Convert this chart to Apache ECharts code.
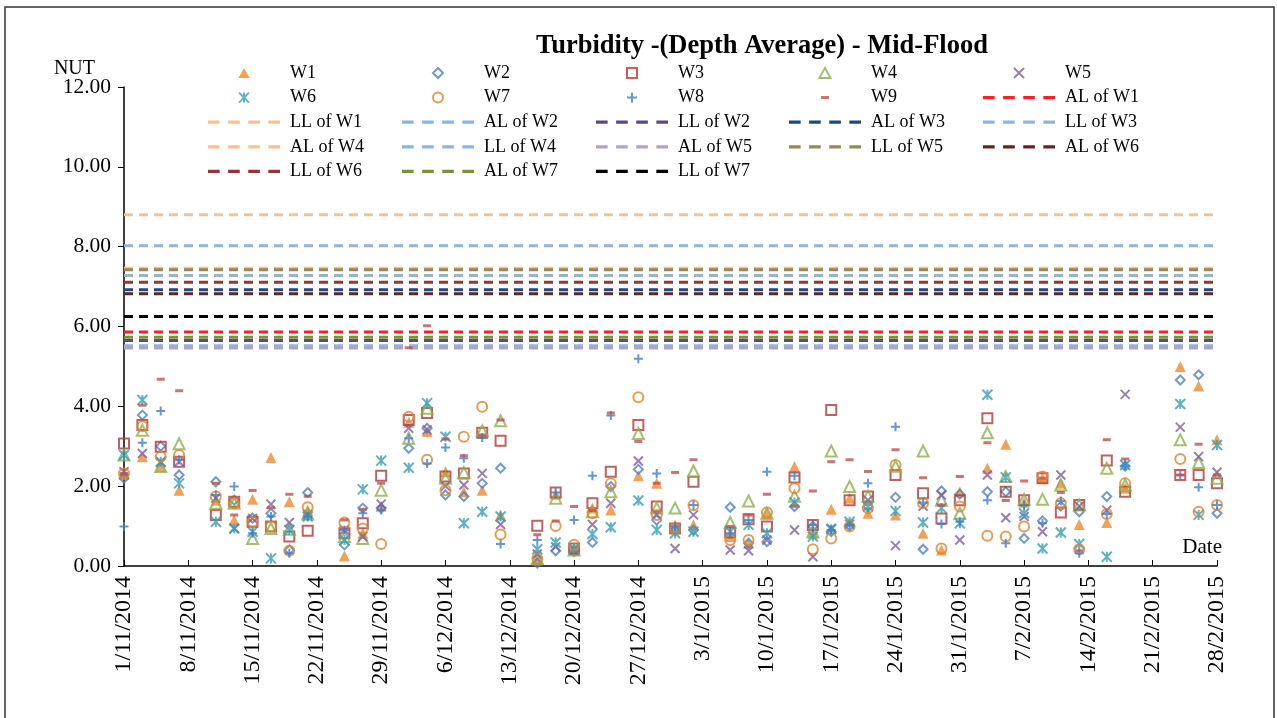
<!DOCTYPE html>
<html>
<head>
<meta charset="utf-8">
<script src="https://cdn.jsdelivr.net/npm/echarts@6/dist/echarts.min.js"></script>
<style>
  html, body { margin: 0; padding: 0; background: #fff; }
  #chart { width: 1277px; height: 718px; }
</style>
</head>
<body>
<div id="chart"></div>
<script>
// sampling dates
var dates = ['2014-11-01','2014-11-03','2014-11-05','2014-11-07','2014-11-11','2014-11-13','2014-11-15','2014-11-17','2014-11-19','2014-11-21',
  '2014-11-25','2014-11-27','2014-11-29','2014-12-02','2014-12-04','2014-12-06','2014-12-08','2014-12-10','2014-12-12','2014-12-16',
  '2014-12-18','2014-12-20','2014-12-22','2014-12-24','2014-12-27','2014-12-29','2014-12-31','2015-01-02','2015-01-06','2015-01-08',
  '2015-01-10','2015-01-13','2015-01-15','2015-01-17','2015-01-19','2015-01-21','2015-01-24','2015-01-27','2015-01-29','2015-01-31',
  '2015-02-03','2015-02-05','2015-02-07','2015-02-09','2015-02-11','2015-02-13','2015-02-16','2015-02-18','2015-02-24','2015-02-26','2015-02-28'];

var W1 = [2.30,2.74,2.49,1.90,1.65,1.15,1.67,2.72,1.61,1.40,0.25,0.82,1.50,3.60,3.37,2.36,1.86,1.90,1.28,0.15,1.80,0.40,1.45,1.40,2.26,2.07,1.03,1.03,0.74,0.57,1.30,2.49,0.82,1.42,1.70,1.32,1.28,0.82,0.40,1.86,2.45,3.05,1.60,2.20,2.07,1.04,1.09,1.95,5.00,4.51,3.16];
var W2 = [2.20,3.78,3.00,2.28,2.11,1.65,1.20,1.32,0.40,1.84,0.53,1.45,1.45,2.95,3.45,1.78,1.74,2.07,2.45,0.07,0.38,0.36,0.59,1.99,2.42,1.15,0.90,0.90,1.47,0.57,0.61,1.49,0.99,0.86,1.00,1.49,1.72,0.42,1.88,1.80,1.86,1.86,0.69,1.13,1.50,1.36,1.74,2.50,4.66,4.79,1.32];
var W3 = [3.07,3.53,2.99,2.61,1.28,1.61,1.11,0.99,0.74,0.88,0.82,1.07,2.26,3.66,3.83,2.24,2.32,3.34,3.14,1.01,1.84,0.44,1.57,2.36,3.53,1.49,0.94,2.11,0.84,1.17,0.99,2.22,1.03,3.91,1.65,1.74,2.28,1.82,1.19,1.65,3.70,1.86,1.65,2.20,1.34,1.53,2.64,1.86,2.28,2.28,2.07];
var W4 = [2.78,3.40,2.49,3.06,1.57,1.57,0.69,0.94,0.92,1.30,0.74,0.69,1.90,3.20,3.95,2.20,2.34,3.39,3.64,0.19,1.70,0.40,1.36,1.86,3.32,1.45,1.45,2.38,1.09,1.63,1.32,1.75,0.86,2.88,1.99,1.75,2.50,2.88,1.65,1.32,3.34,2.24,1.67,1.67,2.03,1.53,2.45,2.03,3.16,2.59,2.20];
var W5 = [2.36,2.82,2.60,2.61,1.70,0.94,1.19,1.55,1.09,1.30,0.90,0.74,1.55,3.45,3.41,2.00,2.03,2.32,1.04,0.30,0.48,0.40,1.04,1.57,2.63,1.30,0.44,1.28,0.40,0.38,0.65,0.90,0.23,0.94,1.05,1.65,0.51,1.50,1.78,0.65,2.28,1.21,1.24,0.86,2.28,1.50,1.40,4.30,3.48,2.74,2.35];
var W6 = [2.78,4.16,2.61,2.07,1.11,0.94,0.86,0.19,0.90,1.24,0.65,1.92,2.64,2.46,4.08,3.24,1.07,1.36,1.24,0.42,0.59,0.44,0.80,0.97,1.64,0.90,0.82,0.86,0.86,1.03,0.82,1.59,0.74,0.92,1.11,1.49,1.38,1.09,1.45,1.07,4.29,2.22,1.32,0.44,0.84,0.55,0.23,2.53,4.06,1.28,3.03];
var W7 = [2.32,3.50,2.74,2.78,1.74,1.57,1.11,0.99,0.38,1.47,1.09,0.94,0.55,3.74,2.66,1.90,3.24,3.99,0.79,0.19,1.00,0.53,1.32,2.07,4.23,1.28,0.94,1.52,0.65,0.65,1.34,1.95,0.42,0.69,0.99,1.45,2.53,1.57,0.44,1.49,0.76,0.74,0.99,2.24,1.57,0.42,1.30,2.07,2.68,1.36,1.53];
var W8 = [0.99,3.09,3.88,2.66,1.78,1.99,0.82,1.24,0.32,1.24,0.90,1.32,1.40,3.20,2.57,2.97,2.70,3.22,0.55,0.65,1.84,1.15,2.26,3.77,5.19,2.32,0.99,1.53,0.82,1.15,2.36,2.26,1.03,0.90,1.03,2.07,3.49,1.59,1.05,1.11,1.65,0.57,1.53,1.07,1.63,0.32,1.30,2.51,2.28,1.97,1.53];
var W9 = [2.32,4.03,4.68,4.39,2.07,1.28,1.89,1.46,1.80,1.75,1.15,1.42,2.07,5.47,6.02,3.18,2.76,3.28,3.66,0.78,1.13,1.49,1.39,3.83,3.12,2.07,2.34,2.66,0.99,1.28,1.80,1.50,1.88,2.61,2.66,2.37,2.91,2.21,1.53,2.24,3.09,1.64,2.13,2.20,1.84,0.38,3.16,2.68,2.28,3.05,2.28];

// action / limit levels
var levelNames = ['AL of W1','LL of W1','AL of W2','LL of W2','AL of W3','LL of W3','AL of W4','LL of W4','AL of W5','LL of W5','AL of W6','LL of W6','AL of W7','LL of W7'];
var levelValues = [5.86, 8.80, 5.52, 5.65, 6.92, 7.28, 7.46, 8.02, 5.46, 7.42, 6.82, 7.11, 5.73, 6.25];
var levelColors = ['#FF2020','#FAC090','#8DB4E2','#604A7B','#1F497D','#95B3D7','#FAC090','#8DB4E2','#B3A2C7','#948A54','#632523','#953735','#77933C','#000000'];

var startDay = Date.UTC(2014, 10, 1);
var endDay = 119;
function dayOf(s) {
  var p = s.split('-');
  return Math.round((Date.UTC(+p[0], +p[1] - 1, +p[2]) - startDay) / 86400000);
}
function fmtDay(v) {
  var d = new Date(startDay + v * 86400000);
  return d.getUTCDate() + '/' + (d.getUTCMonth() + 1) + '/' + d.getUTCFullYear();
}

var FONT = '"Liberation Serif", "Times New Roman", serif';
var dashIcon = 'path://M0,0H11V3H0Z M19,0H30V3H19Z M38,0H49V3H38Z M57,0H68V3H57Z';
// small dash, padded by two tiny specks so it keeps its size inside the legend box
var dashMark = 'path://M0,0H0.01V0.01H0Z M10,3.5H18V6.5H10Z M27.99,9.99H28V10H27.99Z';

var pointDefs = [
  { name: 'W1', data: W1, symbol: 'path://M5,0L10,9L0,9Z', size: 11, color: '#F08A30', fill: true },
  { name: 'W2', data: W2, symbol: 'path://M5,0L10,5L5,10L0,5Z', size: 9, color: '#4F81BD' },
  { name: 'W3', data: W3, symbol: 'path://M0,0H10V10H0Z', size: 10, color: '#B03A36' },
  { name: 'W4', data: W4, symbol: 'path://M5,0L10,9L0,9Z', size: 11, color: '#8CB04E' },
  { name: 'W5', data: W5, symbol: 'path://M0,0L10,10M10,0L0,10', size: 9, color: '#7E5FA0' },
  { name: 'W6', data: W6, symbol: 'path://M0,0L10,10M10,0L0,10M5,0V10', size: 10, color: '#3A9DB5' },
  { name: 'W7', data: W7, symbol: 'path://M0,5A5,5 0 1,0 10,5A5,5 0 1,0 0,5Z', size: 10, color: '#E0832A' },
  { name: 'W8', data: W8, symbol: 'path://M5,0V10M0,5H10', size: 9, color: '#3D7CC9' },
  { name: 'W9', data: W9, symbol: dashMark, size: [28, 10], color: '#C0504D', fill: true }
];

var series = [];
levelNames.forEach(function (n, i) {
  series.push({
    name: n,
    type: 'line',
    symbol: 'none',
    silent: true,
    z: 1,
    lineStyle: { color: levelColors[i], width: 3, type: [9, 6] },
    itemStyle: { color: levelColors[i] },
    data: [[0, levelValues[i]], [endDay, levelValues[i]]]
  });
});
pointDefs.forEach(function (p) {
  series.push({
    name: p.name,
    type: 'scatter',
    symbol: p.symbol,
    symbolSize: p.size,
    z: 3,
    itemStyle: p.fill
      ? { color: p.color }
      : { color: 'rgba(255,255,255,0)', borderColor: p.color, borderWidth: 2 },
    data: p.data.map(function (v, i) { return [dayOf(dates[i]), v]; })
  });
});

var columns = [
  ['W1', 'W6', 'LL of W1', 'AL of W4', 'LL of W6'],
  ['W2', 'W7', 'AL of W2', 'LL of W4', 'AL of W7'],
  ['W3', 'W8', 'LL of W2', 'AL of W5', 'LL of W7'],
  ['W4', 'W9', 'AL of W3', 'LL of W5'],
  ['W5', 'AL of W1', 'LL of W3', 'AL of W6']
];
var colLeft = [208, 402, 596, 789, 983];
var legends = columns.map(function (col, c) {
  return {
    orient: 'vertical',
    left: colLeft[c],
    top: 63,
    padding: 0,
    itemWidth: 72,
    itemHeight: 10,
    itemGap: 4.6,
    selectedMode: false,
    textStyle: { fontFamily: FONT, fontSize: 18, color: '#000', lineHeight: 20, padding: [0, 0, 0, 5] },
    data: col.map(function (n) {
      return levelNames.indexOf(n) >= 0 ? { name: n, icon: dashIcon } : { name: n };
    })
  };
});

var chart = echarts.init(document.getElementById('chart'));
chart.setOption({
  animation: false,
  backgroundColor: '#fff',
  title: {
    text: 'Turbidity -(Depth Average) - Mid-Flood',
    left: 757,
    textAlign: 'center',
    top: 28,
    textStyle: { fontFamily: FONT, fontSize: 26.5, fontWeight: 'bold', color: '#000' }
  },
  graphic: [{
    type: 'rect',
    shape: { x: 5, y: 7, width: 1269, height: 720 },
    style: { fill: 'none', stroke: '#333', lineWidth: 1.5 },
    silent: true
  }],
  legend: legends,
  grid: { left: 124, right: 60, top: 87, bottom: 152 },
  xAxis: {
    type: 'value',
    min: 0,
    max: endDay,
    interval: 7,
    name: 'Date',
    nameLocation: 'end',
    nameGap: 5,
    nameTextStyle: { fontFamily: FONT, fontSize: 21, color: '#000', align: 'right', verticalAlign: 'bottom', padding: [0, 0, 8, 0] },
    axisLine: { lineStyle: { color: '#000', width: 1.5 } },
    axisTick: { inside: true, length: 6, lineStyle: { color: '#000' } },
    splitLine: { show: false },
    axisLabel: {
      rotate: 90,
      margin: 10,
      fontFamily: FONT,
      fontSize: 24,
      color: '#000',
      formatter: fmtDay
    }
  },
  yAxis: {
    type: 'value',
    min: 0,
    max: 12,
    interval: 2,
    name: 'NUT',
    nameGap: 8,
    nameMoveOverlap: false,
    nameTextStyle: { fontFamily: FONT, fontSize: 20, color: '#000', align: 'right', padding: [0, 29, 0, 0] },
    axisLine: { show: true, lineStyle: { color: '#000', width: 1.5 } },
    axisTick: { show: true, length: 6, lineStyle: { color: '#000' } },
    splitLine: { show: false },
    axisLabel: {
      margin: 13,
      fontFamily: FONT,
      fontSize: 21.5,
      color: '#000',
      formatter: function (v) { return v.toFixed(2); }
    }
  },
  series: series
});
</script>
</body>
</html>
